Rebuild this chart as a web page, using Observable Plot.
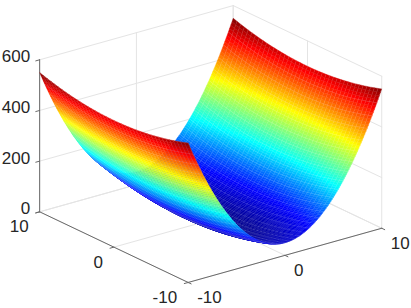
<!DOCTYPE html>
<html>
<head>
<meta charset="utf-8">
<style>html,body{margin:0;padding:0;background:#fff}svg{display:block}</style>
<script src="https://cdn.jsdelivr.net/npm/d3@7"></script>
<script src="https://cdn.jsdelivr.net/npm/@observablehq/plot@0.6"></script>
</head>
<body>
<div id="chart"></div>
<script>
// Grid positions and the two height profiles
const gridX = [-10,-9.5,-9,-8.5,-8,-7.5,-7,-6.5,-6,-5.5,-5,-4.5,-4,-3.5,-3,-2.5,-2,-1.5,-1,-0.5,0,0.5,1,1.5,2,2.5,3,3.5,4,4.5,5,5.5,6,6.5,7,7.5,8,8.5,9,9.5,10];
const gridY = gridX.slice();
const heightAlongX = [500,451,405,361,320,281,245,211,180,151,125,101,80,61,45,31,20,11,5,1,0,1,5,11,20,31,45,61,80,101,125,151,180,211,245,281,320,361,405,451,500];
const heightAlongY = [50,45,40.5,36,32,28,24.5,21,18,15,12.5,10,8,6,4.5,3,2,1,0.5,0,0,0,0.5,1,2,3,4.5,6,8,10,12.5,15,18,21,24.5,28,32,36,40.5,45,50];
const ticksXY = [-10,0,10];
const ticksZ = [0,200,400,600];
const jetStops = [0,82,206,344,481,550];
const jetColors = ["#000080","#0000ff","#00ffff","#ffff00","#ff0000","#800000"];

// Orthographic view of the plot box
const az = 37.5*Math.PI/180, el = 21.4*Math.PI/180, boxH = 1.338;
const U = p => Math.cos(az)*p.x/10 - Math.sin(az)*p.y/10;
const V = p => Math.sin(el)*(Math.sin(az)*p.x/10 + Math.cos(az)*p.y/10) + Math.cos(el)*boxH*p.z/600;

// Surface vertex; fractional a gives colour shading across a grid cell
const vertex = (a,b) => {
  const i = Math.min(Math.floor(a), gridX.length-2), t = a-i;
  return {x:gridX[i]+(gridX[i+1]-gridX[i])*t, y:gridY[b],
          z:heightAlongX[i]*(1-t)+heightAlongX[i+1]*t+heightAlongY[b]};
};
// Faces seen from above are behind faces seen from below
const seenFromBelow = (i,j) => {
  const p=[vertex(i,j),vertex(i+1,j),vertex(i+1,j+1),vertex(i,j+1)];
  let area=0;
  p.forEach((q,k)=>{const r=p[(k+1)%4]; area+=U(q)*V(r)-U(r)*V(q);});
  return area<0;
};
const shadeSteps = 4;
const faceRows = [[],[]], edgeRows = [[],[]];
let nextId = 0;
for (let i=0;i<gridX.length-1;i++) for (let j=0;j<gridY.length-1;j++) {
  const side = seenFromBelow(i,j) ? 1 : 0;
  for (let s=0;s<shadeSteps;s++) {
    const a0=i+s/shadeSteps, a1=i+(s+1)/shadeSteps;
    const ring=[vertex(a0,j),vertex(a1,j),vertex(a1,j+1),vertex(a0,j+1),vertex(a0,j)];
    const level=d3.mean(ring.slice(0,4),q=>q.z);
    const id=nextId++;
    ring.forEach(q=>faceRows[side].push({id,level,...q}));
  }
  const e=nextId++;
  [vertex(i,j+1),vertex(i,j),vertex(i+1,j)].forEach(q=>edgeRows[side].push({id:e,...q}));
}

// Box: grid on the back walls and floor, then axes with ticks
const segs = (list)=>list.flatMap((s,k)=>[{id:k,...s[0]},{id:k,...s[1]}]);
const gridSegs = segs([
  ...ticksZ.flatMap(z=>[[{x:-10,y:10,z},{x:10,y:10,z}],[{x:10,y:10,z},{x:10,y:-10,z}]]),
  ...ticksXY.flatMap(x=>[[{x,y:10,z:0},{x,y:10,z:600}],[{x,y:-10,z:0},{x,y:10,z:0}]]),
  ...ticksXY.flatMap(y=>[[{x:10,y,z:0},{x:10,y,z:600}],[{x:-10,y,z:0},{x:10,y,z:0}]])
]);
const axisSegs = segs([
  [{x:-10,y:10,z:0},{x:-10,y:10,z:600}],
  [{x:-10,y:10,z:0},{x:-10,y:-10,z:0}],
  [{x:-10,y:-10,z:0},{x:10,y:-10,z:0}],
  ...ticksZ.map(z=>[{x:-10.4,y:10,z},{x:-10,y:10,z}]),
  ...ticksXY.map(y=>[{x:-10.4,y,z:0},{x:-10,y,z:0}]),
  ...ticksXY.map(x=>[{x,y:-10.4,z:0},{x,y:-10,z:0}])
]);
const labelsZ = ticksZ.map(z=>({x:-10,y:10,z,t:String(z)}));
const labelsY = ticksXY.map(y=>({x:-10,y,z:0,t:String(y)}));
const labelsX = ticksXY.map(x=>({x,y:-10,z:0,t:String(x)}));
const textStyle = {x:U,y:V,text:"t",fontSize:17,fill:"#262626"};
const faceStyle = {x:U,y:V,z:"id",fill:"level",stroke:"level",strokeWidth:0.4};
const edgeStyle = {x:U,y:V,z:"id",stroke:"#fff",strokeOpacity:0.16,strokeWidth:0.6};

const chart = Plot.plot({
  width:411,height:308,margin:0,
  style:{fontFamily:"'Liberation Sans',Arial,sans-serif",background:"#fff"},
  x:{domain:[-1.723,1.646],range:[0,411],axis:null},
  y:{domain:[-0.725,1.799],range:[308,0],axis:null},
  color:{type:"linear",domain:jetStops,range:jetColors,interpolate:"rgb"},
  marks:[
    Plot.line(gridSegs,{x:U,y:V,z:"id",stroke:"#e4e4e4",strokeWidth:1}),
    Plot.line(axisSegs,{x:U,y:V,z:"id",stroke:"#6a6a6a",strokeWidth:1}),
    Plot.line(faceRows[0],faceStyle),
    Plot.line(edgeRows[0],edgeStyle),
    Plot.line(faceRows[1],faceStyle),
    Plot.line(edgeRows[1],edgeStyle),
    Plot.text(labelsZ,{...textStyle,textAnchor:"end",dx:-9.5,dy:-3}),
    Plot.text(labelsY,{...textStyle,textAnchor:"end",dx:-11,dy:15}),
    Plot.text(labelsX,{...textStyle,textAnchor:"start",dx:9,dy:15.5})
  ]
});
document.getElementById("chart").appendChild(chart);
</script>
</body>
</html>
